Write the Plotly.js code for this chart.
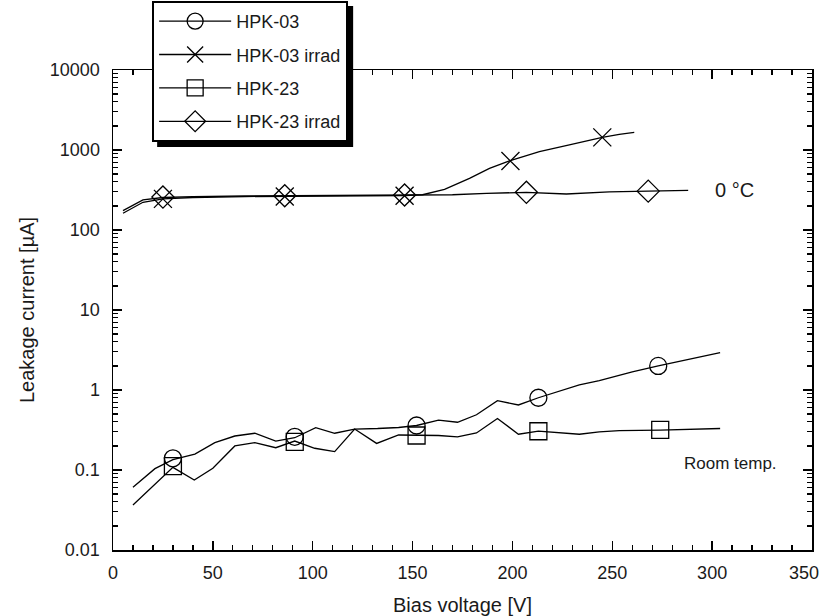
<!DOCTYPE html>
<html>
<head>
<meta charset="utf-8">
<script src="https://cdn.plot.ly/plotly-3.0.1.min.js"></script>
<style>html,body{margin:0;padding:0;background:#fff;}#chart{width:823px;height:616px;}</style>
</head>
<body>
<div id="chart"></div>
<script>
// ---- Data ----
var seriesNames = ["HPK-03", "HPK-03 irrad", "HPK-23", "HPK-23 irrad"];

// HPK-03 (room temperature)
var hpk03_V = [10, 21, 30, 41, 51, 61, 71, 81.5, 91, 101.5, 111, 121, 132.5, 143, 152, 163, 172.5, 182, 192.5, 203, 213, 223, 233.5, 243.5, 260, 273, 283.5, 293.5, 304];
var hpk03_I = [0.061, 0.104, 0.135, 0.158, 0.22, 0.266, 0.288, 0.23, 0.253, 0.338, 0.288, 0.325, 0.33, 0.34, 0.36, 0.42, 0.395, 0.49, 0.735, 0.65, 0.80, 0.95, 1.155, 1.31, 1.69, 2.0, 2.26, 2.56, 2.93];
var hpk03_mV = [30, 91, 152, 213, 273];
var hpk03_mI = [0.14, 0.26, 0.36, 0.80, 2.0];

// HPK-23 (room temperature)
var hpk23_V = [10, 30, 40.7, 50, 61, 71, 81.5, 91, 101, 111, 121, 132, 143, 152, 163, 172.5, 182, 192.5, 203, 213, 233.5, 243.5, 253.5, 274, 294.5, 304];
var hpk23_I = [0.0365, 0.108, 0.075, 0.105, 0.2, 0.22, 0.19, 0.23, 0.187, 0.17, 0.325, 0.215, 0.274, 0.274, 0.27, 0.26, 0.29, 0.44, 0.28, 0.307, 0.28, 0.30, 0.31, 0.316, 0.33, 0.33];
var hpk23_mV = [30, 91, 152, 213, 274];
var hpk23_mI = [0.112, 0.225, 0.27, 0.305, 0.318];

// HPK-03 irrad (0 °C)
var hpk03i_V = [5, 15, 25, 40, 66, 86, 110, 146, 155, 166, 178.5, 188.5, 198.5, 213.5, 228.5, 245, 253.5, 261];
var hpk03i_I = [162, 222, 245, 255, 262, 263, 266, 270, 276, 323, 443, 590, 729, 955, 1155, 1439, 1570, 1664];
var hpk03i_mV = [25, 86, 146, 199, 245];
var hpk03i_mI = [245, 262, 268, 729, 1439];

// HPK-23 irrad (0 °C)
var hpk23i_V = [5, 15, 25, 40, 66, 86, 110, 146, 170, 187, 207, 227, 248.5, 268, 288];
var hpk23i_I = [175, 238, 255, 262, 266, 268, 270, 272, 276, 287, 296, 282, 300, 306, 312];
var hpk23i_mV = [25, 86, 146, 207, 268];
var hpk23i_mI = [258, 268, 274, 296, 306];

// Tick labels
var xTickVals = [0, 50, 100, 150, 200, 250, 300, 350];
var xTickText = ["0", "50", "100", "150", "200", "250", "300", ""];
var xLastLabel = "350";
var yTickVals = [0.01, 0.1, 1, 10, 100, 1000, 10000];
var yTickText = ["0.01", "0.1", "1", "10", "100", "1000", "10000"];

// ---- Styling ----
var FONT = "Liberation Sans, Arial, Helvetica, sans-serif";
var INK = "#000000";
var TXT = "#1a1a1a";
var LW = 1.3;

function lineTrace(x, y) {
  return {x: x, y: y, type: "scatter", mode: "lines", showlegend: false, hoverinfo: "skip",
          line: {color: INK, width: LW}};
}
function markerTrace(x, y, sym, size) {
  return {x: x, y: y, type: "scatter", mode: "markers", showlegend: false, hoverinfo: "skip",
          marker: {symbol: sym, size: size, color: INK, line: {color: INK, width: 1.3}}};
}
function legendTrace(name, sym, size, grp) {
  return {x: [null], y: [null], type: "scatter", mode: "lines+markers", name: name, legendgroup: grp,
          line: {color: INK, width: LW},
          marker: {symbol: sym, size: size, color: INK, line: {color: INK, width: 1.3}}};
}

var traces = [
  lineTrace(hpk03_V, hpk03_I), markerTrace(hpk03_mV, hpk03_mI, "circle-open", 17),
  lineTrace(hpk23_V, hpk23_I), markerTrace(hpk23_mV, hpk23_mI, "square-open", 17),
  lineTrace(hpk03i_V, hpk03i_I), markerTrace(hpk03i_mV, hpk03i_mI, "x-thin-open", 18),
  lineTrace(hpk23i_V, hpk23i_I), markerTrace(hpk23i_mV, hpk23i_mI, "diamond-open", 17),
  legendTrace(seriesNames[0], "circle-open", 16, "g1"),
  legendTrace(seriesNames[1], "x-thin-open", 16, "g2"),
  legendTrace(seriesNames[2], "square-open", 16, "g3"),
  legendTrace(seriesNames[3], "diamond-open", 16, "g4")
];

var W = 823, H = 616;
var M = {l: 113, r: 11, t: 70, b: 66, autoexpand: false};

var tickCommon = {
  ticks: "inside", tickcolor: INK, tickwidth: 1.3,
  showline: true, linecolor: INK, linewidth: 1.5, mirror: "ticks",
  showgrid: false, zeroline: false
};

var layout = {
  width: W, height: H,
  margin: M,
  paper_bgcolor: "#fff", plot_bgcolor: "#fff",
  font: {family: FONT, color: TXT, size: 18},
  showlegend: true,
  legend: {
    x: 0.056, xanchor: "left", y: 1.144, yanchor: "top",
    bgcolor: "#fff", bordercolor: INK, borderwidth: 2,
    font: {family: FONT, size: 18, color: TXT},
    traceorder: "grouped", tracegroupgap: 7, itemwidth: 72
  },
  xaxis: Object.assign({}, tickCommon, {
    range: [0, 350], tickmode: "array", tickvals: xTickVals, ticktext: xTickText,
    ticklen: 9, ticklabelstandoff: 6,
    tickfont: {family: FONT, size: 18, color: TXT},
    minor: {dtick: 10, ticks: "inside", ticklen: 5, tickwidth: 1.3, tickcolor: INK, showgrid: false},
    title: {text: "Bias voltage [V]", font: {family: FONT, size: 20, color: TXT}, standoff: 16}
  }),
  yaxis: Object.assign({}, tickCommon, {
    type: "log", range: [-2, 4], tickmode: "array", tickvals: yTickVals, ticktext: yTickText,
    ticklen: 9, ticklabelstandoff: 8,
    tickfont: {family: FONT, size: 18, color: TXT},
    minor: {dtick: "D1", ticks: "inside", ticklen: 5, tickwidth: 1.3, tickcolor: INK, showgrid: false},
    title: {text: "Leakage current [µA]", font: {family: FONT, size: 20, color: TXT}, standoff: 10}
  }),
  annotations: [
    {x: 311, y: Math.log10(316), xref: "x", yref: "y", text: "0 °C", showarrow: false,
     font: {family: FONT, size: 20, color: TXT}},
    {x: 309, y: Math.log10(0.122), xref: "x", yref: "y", text: "Room temp.", showarrow: false,
     font: {family: FONT, size: 17, color: TXT}},
    {x: 1, y: 0, xref: "paper", yref: "paper", xanchor: "right", yanchor: "middle",
     xshift: 9, yshift: -23, text: xLastLabel, showarrow: false,
     font: {family: FONT, size: 18, color: TXT}}
  ]
};

Plotly.newPlot("chart", traces, layout, {staticPlot: true, displayModeBar: false}).then(function (gd) {
  var fl = gd._fullLayout;
  var lg = fl.legend;
  var w = lg._width, h = lg._height;
  var pw = fl._size.w, ph = fl._size.h;
  var off = 5;
  var x0 = lg.x + off / pw, x1 = lg.x + (w + off) / pw;
  var y1 = lg.y - off / ph, y0 = lg.y - (h + off) / ph;
  return Plotly.relayout(gd, {shapes: [{
    type: "rect", xref: "paper", yref: "paper", x0: x0, x1: x1, y0: y0, y1: y1,
    fillcolor: INK, line: {width: 0}, layer: "above"
  }]});
});
</script>
</body>
</html>
